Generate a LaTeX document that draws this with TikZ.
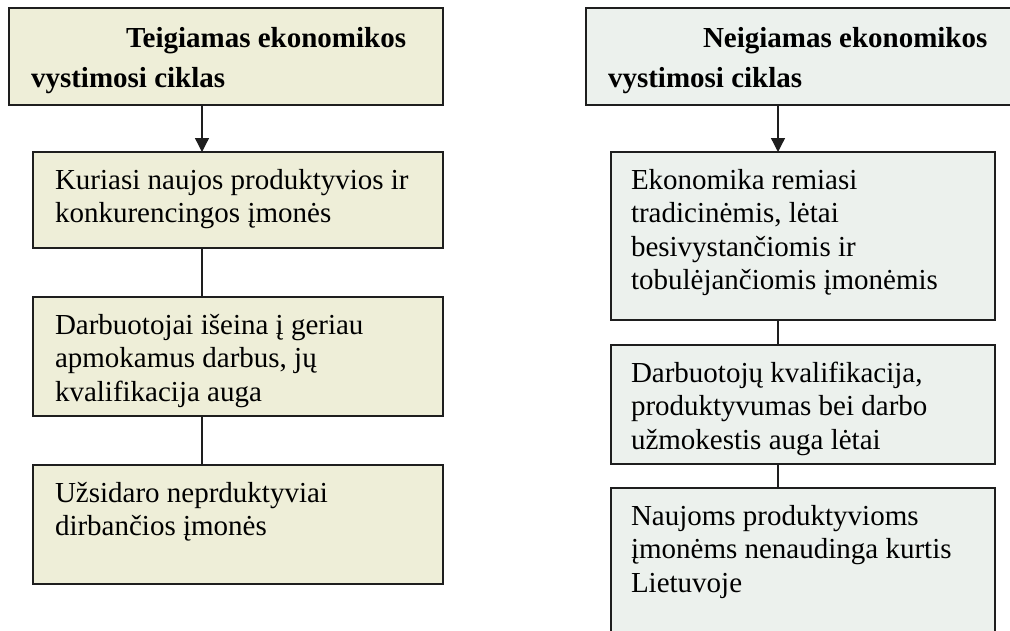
\documentclass[tikz,border=0pt]{standalone}
\usepackage{fontspec}
\setmainfont{Liberation Serif}
\usetikzlibrary{arrows.meta}

\definecolor{plusfill}{RGB}{238,238,216}
\definecolor{minusfill}{RGB}{236,241,237}
\definecolor{boxline}{RGB}{30,30,30}

% text of a box: height, width, lines
\newcommand{\bodytext}[3]{\parbox[t][#1][t]{#2}{\raggedright\fontsize{29}{33.5}\selectfont\rule{0pt}{37pt}#3}}
\newcommand{\headtext}[4]{\parbox[t][#1][t]{#2}{\raggedright\bfseries\fontsize{29}{40}\selectfont\rule{0pt}{39pt}\hspace*{95pt}#3\\#4}}

\tikzset{
  plusbox/.style={draw=boxline, line width=1.3pt, fill=plusfill, anchor=north west,
    inner xsep=22pt, inner ysep=0pt, outer sep=0pt},
  minusbox/.style={plusbox, fill=minusfill, inner xsep=20pt},
  headbox/.style={inner xsep=22pt},
  link/.style={draw=boxline, line width=1.3pt},
}

\begin{document}
\begin{tikzpicture}[x=1pt,y=-1pt]
    \useasboundingbox (0,0) rectangle (1010,630);
    \clip (0,0) rectangle (1010,630);

    % positive cycle
    \node (plushead) [plusbox] at (9,8) {\headtext{97pt}{390pt}{Teigiamas ekonomikos}{vystimosi ciklas}};
    \node (plusA) [plusbox] at (33,152) {\bodytext{96pt}{366pt}{Kuriasi naujos produktyvios ir\\konkurencingos įmonės}};
    \node (plusB) [plusbox] at (33,297) {\bodytext{119pt}{366pt}{Darbuotojai išeina į geriau\\apmokamus darbus, jų\\kvalifikacija auga}};
    \node (plusC) [plusbox] at (33,465) {\bodytext{119pt}{366pt}{Užsidaro neprduktyviai\\dirbančios įmonės}};

    % negative cycle
    \node (minushead) [minusbox, headbox] at (586,8) {\headtext{97pt}{385pt}{Neigiamas ekonomikos}{vystimosi ciklas}};
    \node (minusA) [minusbox] at (611,152) {\bodytext{168pt}{344pt}{Ekonomika remiasi\\tradicinėmis, lėtai\\besivystančiomis ir\\tobulėjančiomis įmonėmis}};
    \node (minusB) [minusbox] at (611,345) {\bodytext{119pt}{344pt}{Darbuotojų kvalifikacija,\\produktyvumas bei darbo\\užmokestis auga lėtai}};
    \node (minusC) [minusbox] at (611,488) {\bodytext{150pt}{344pt}{Naujoms produktyvioms\\įmonėms nenaudinga kurtis\\Lietuvoje}};

    \coordinate (lx) at (202,0);
    \coordinate (rx) at (778,0);

    \draw [link, -{Triangle[length=14pt,width=14pt]}] (plushead.south -| lx) -- (plusA.north -| lx);
    \draw [link] (plusA.south -| lx) -- (plusB.north -| lx);
    \draw [link] (plusB.south -| lx) -- (plusC.north -| lx);

    \draw [link, -{Triangle[length=14pt,width=14pt]}] (minushead.south -| rx) -- (minusA.north -| rx);
    \draw [link] (minusA.south -| rx) -- (minusB.north -| rx);
    \draw [link] (minusB.south -| rx) -- (minusC.north -| rx);
\end{tikzpicture}
\end{document}
